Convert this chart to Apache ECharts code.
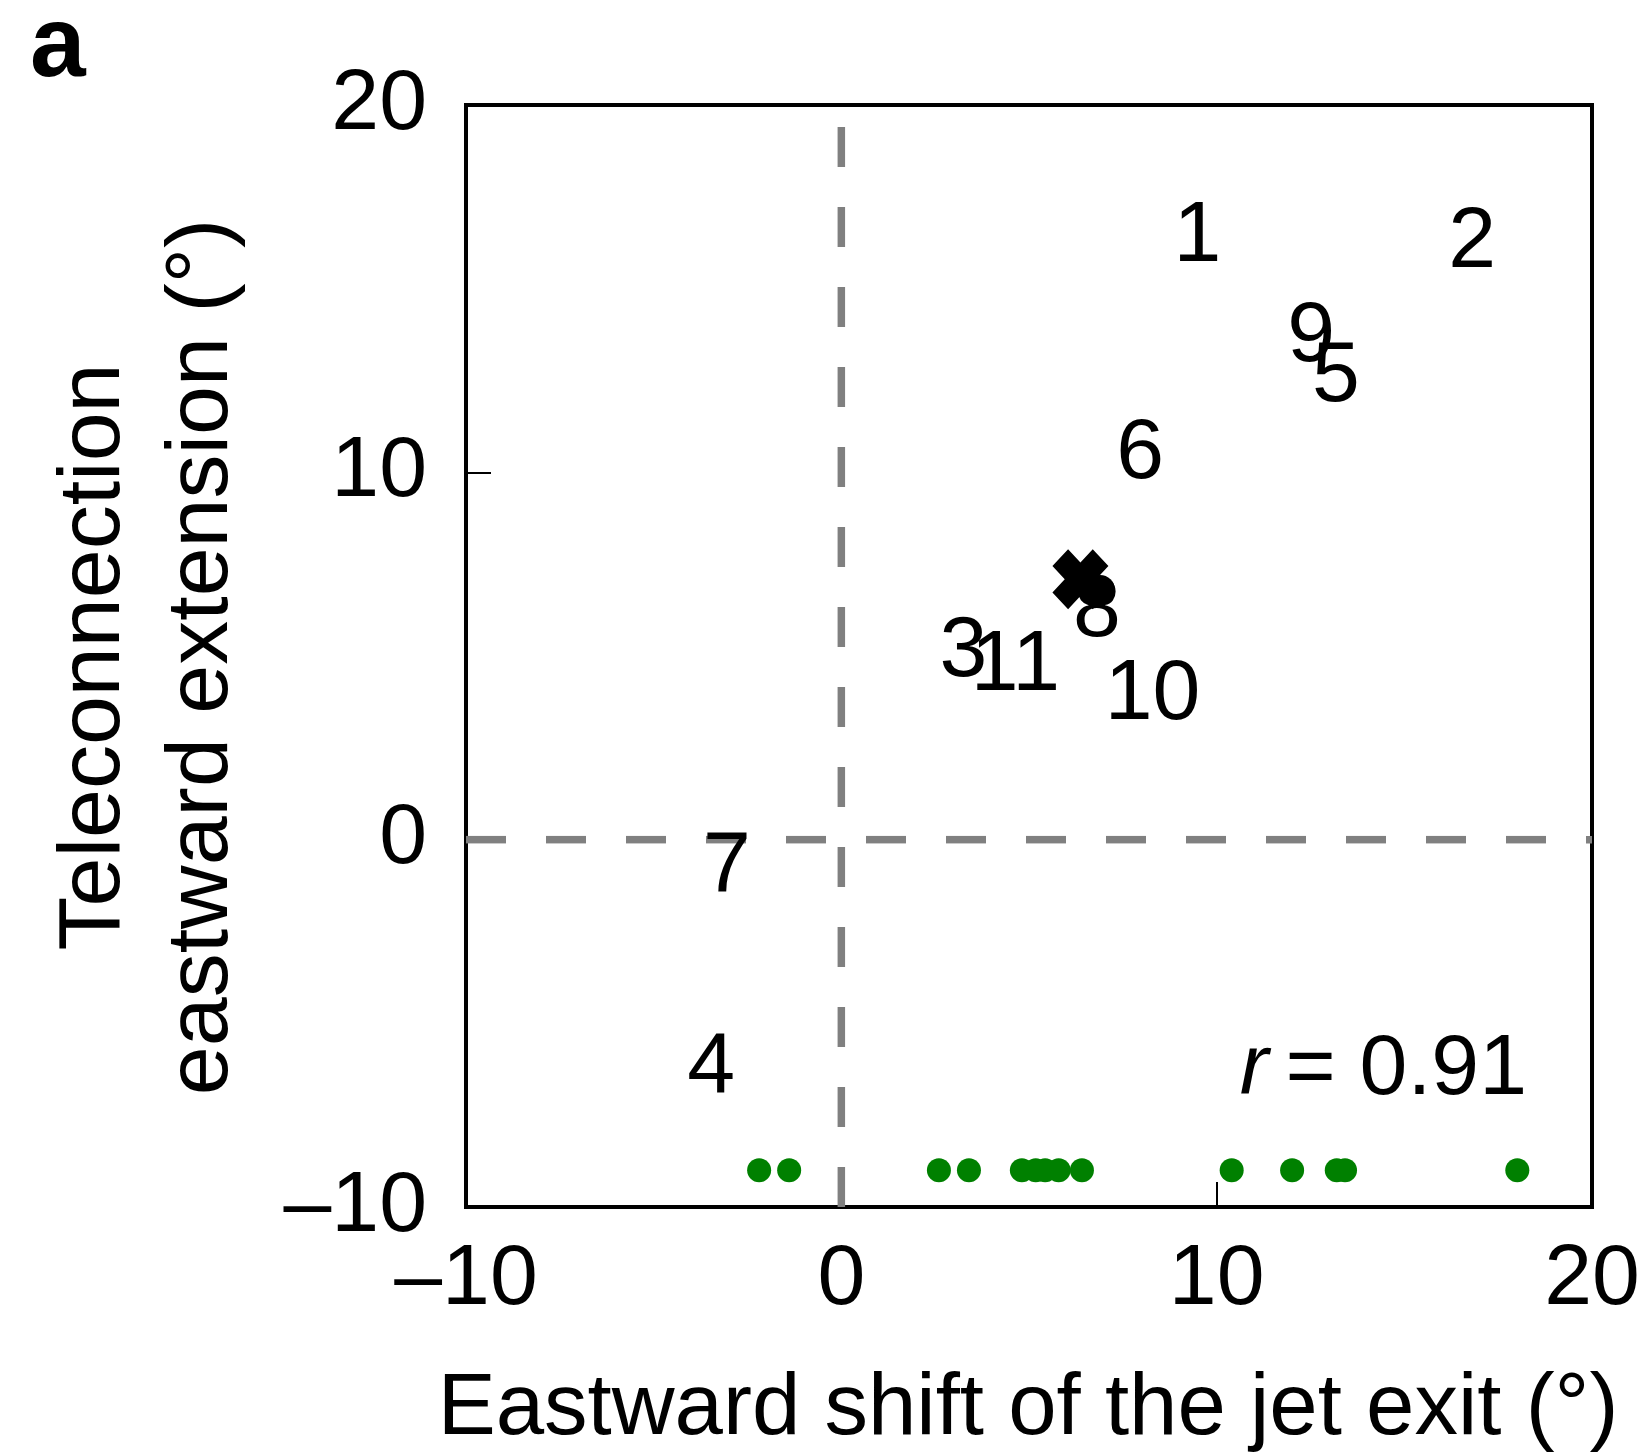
<!DOCTYPE html>
<html>
<head>
<meta charset="utf-8">
<style>
html,body{margin:0;padding:0;background:#fff;}
#chart{width:1649px;height:1454px;}
</style>
<script src="https://cdn.jsdelivr.net/npm/echarts@6/dist/echarts.min.js"></script>
</head>
<body>
<div id="chart"></div>
<script>
// ---- data ----
const modelIds = ['1','2','3','4','5','6','7','8','9','10','11'];
const modelX = [9.49, 16.81, 3.25, -3.47, 13.18, 7.96, -3.05, 6.81, 12.52, 8.29, 4.64];
const modelY = [16.54, 16.38, 5.25, -6.09, 12.73, 10.62, -0.61, 6.32, 13.81, 4.08, 4.86];
const meanX = [6.37];
const meanY = [7.09];
const dotX = [6.89];
const dotY = [6.80];
const rugX = [-2.19, -1.39, 2.60, 3.40, 4.81, 5.18, 5.43, 5.79, 6.41, 10.40, 12.01, 13.20, 13.42, 18.01];
const rugLevel = -9;
const xTicks = [-10, 0, 10, 20];
const yTicks = [-10, 0, 10, 20];
const rText = '0.91';

const FONT = '"Liberation Sans", Arial, Helvetica, sans-serif';
const fmt = v => String(v).replace('-', '\u2013');

const labelData = modelIds.map((id, i) => [modelX[i], modelY[i], id]);
const meanData = meanX.map((x, i) => [x, meanY[i]]);
const dotData = dotX.map((x, i) => [x, dotY[i]]);
const rugData = rugX.map(x => [x, rugLevel]);

const a = 28;
const xPath = 'path://M0,' + a + 'L' + a + ',0L50,' + (50 - a) + 'L' + (100 - a) + ',0L100,' + a +
  'L' + (50 + a) + ',50L100,' + (100 - a) + 'L' + (100 - a) + ',100L50,' + (50 + a) +
  'L' + a + ',100L0,' + (100 - a) + 'L' + (50 - a) + ',50Z';

const chart = echarts.init(document.getElementById('chart'), null, {renderer: 'canvas'});
const option = {
  animation: false,
  backgroundColor: '#fff',
  grid: {left: 466, top: 105, width: 1126, height: 1102, show: true, borderColor: '#000', borderWidth: 4, backgroundColor: 'transparent'},
  xAxis: {
    type: 'value', min: xTicks[0], max: xTicks[xTicks.length - 1], interval: 10,
    axisLine: {show: true, onZero: false, lineStyle: {color: '#000', width: 4}},
    axisTick: {show: true, inside: true, length: 25, lineStyle: {color: '#000', width: 2}},
    axisLabel: {margin: 30, color: '#000', fontSize: 86, fontFamily: FONT, formatter: fmt},
    splitLine: {show: false}
  },
  yAxis: {
    type: 'value', min: yTicks[0], max: yTicks[yTicks.length - 1], interval: 10,
    axisLine: {show: true, onZero: false, lineStyle: {color: '#000', width: 4}},
    axisTick: {show: true, inside: true, length: 25, lineStyle: {color: '#000', width: 2}},
    axisLabel: {margin: 39, color: '#000', fontSize: 86, fontFamily: FONT, formatter: fmt},
    splitLine: {show: false}
  },
  series: [
    {
      type: 'line', silent: true, z: 2, symbol: 'none',
      data: [[0, yTicks[0]], [0, yTicks[yTicks.length - 1]]],
      lineStyle: {color: '#808080', width: 7.5, type: [40, 40], opacity: 1}
    },
    {
      type: 'line', silent: true, z: 2, symbol: 'none',
      data: [[xTicks[0], 0], [xTicks[xTicks.length - 1], 0]],
      lineStyle: {color: '#808080', width: 7.5, type: [40, 40], opacity: 1}
    },
    {
      type: 'scatter', silent: true, z: 3, symbolSize: 1,
      itemStyle: {color: 'rgba(0,0,0,0)', opacity: 1},
      data: labelData,
      label: {show: true, position: 'inside', offset: [0, 5], formatter: p => p.value[2], color: '#000', opacity: 1, fontSize: 86, fontFamily: FONT}
    },
    {
      type: 'scatter', silent: true, z: 5, symbol: 'circle', symbolSize: 24,
      itemStyle: {color: '#008000', opacity: 1}, data: rugData
    },
    {
      type: 'scatter', silent: true, z: 6, symbol: 'circle', symbolSize: 30,
      itemStyle: {color: '#000', opacity: 1}, data: dotData
    },
    {
      type: 'scatter', silent: true, z: 7, symbol: xPath, symbolSize: [56, 60],
      itemStyle: {color: '#000', opacity: 1}, data: meanData
    }
  ],
  graphic: [
    {type: 'text', x: 30, y: 48, style: {text: 'a', font: 'bold 100px ' + FONT, fill: '#000', textAlign: 'left', textVerticalAlign: 'middle'}},
    {type: 'text', x: 95, y: 657, rotation: Math.PI / 2, style: {text: 'Teleconnection', font: '88px ' + FONT, fill: '#000', textAlign: 'center', textVerticalAlign: 'middle'}},
    {type: 'text', x: 203, y: 657, rotation: Math.PI / 2, style: {text: 'eastward extension (\u00B0)', font: '88px ' + FONT, fill: '#000', textAlign: 'center', textVerticalAlign: 'middle'}},
    {type: 'text', x: 1028, y: 1410, style: {text: 'Eastward shift of the jet exit (\u00B0)', font: '87px ' + FONT, fill: '#000', textAlign: 'center', textVerticalAlign: 'middle'}},
    {type: 'text', x: 1527, y: 1070, style: {
      text: '{i|r}\u2009= ' + rText, textAlign: 'right', textVerticalAlign: 'middle', fill: '#000', font: '86px ' + FONT,
      rich: {i: {fontStyle: 'italic', fontSize: 86, fontFamily: FONT, fill: '#000'}}
    }}
  ]
};
chart.setOption(option);
</script>
</body>
</html>
